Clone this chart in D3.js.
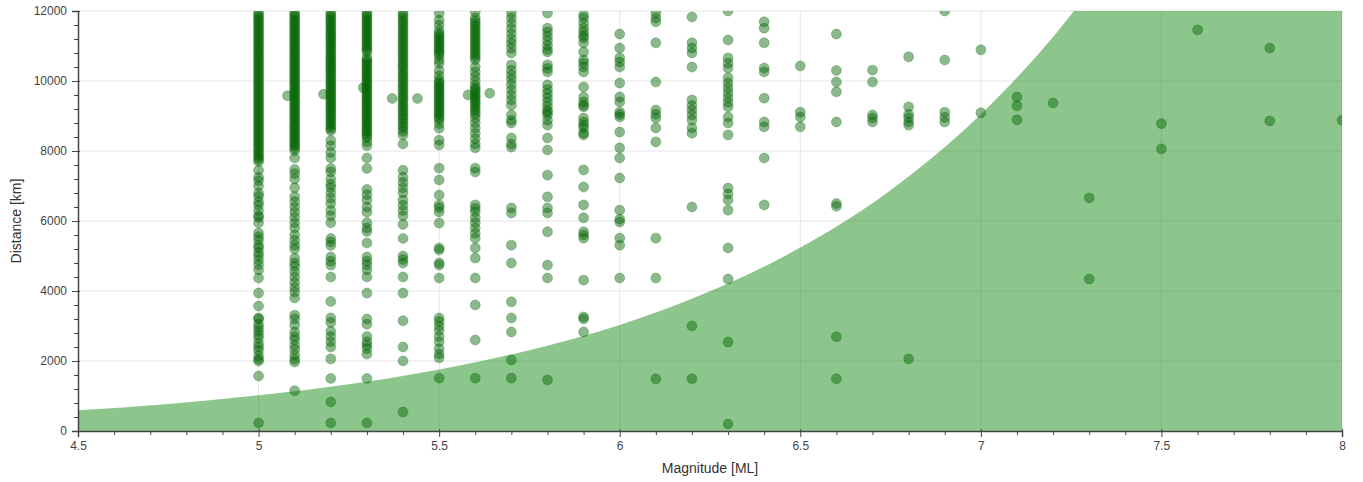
<!DOCTYPE html>
<html lang="en">
<head>
  <meta charset="UTF-8">
  <script src="https://d3js.org/d3.v7.min.js"></script>
  <style>
    body {
      margin: 0;
      padding: 0;
      background-color: #fff;
      font-family: "Liberation Sans", Arial, sans-serif;
    }
    .tick text {
      font-size: 12px;
      fill: #444;
    }
    .axis-title {
      font-size: 14px;
      fill: #333;
    }
  </style>
</head>
<body>
  <div id="chart"></div>
  <script>
    // magnitude columns and the distances read for each one
    const magnitudes = [5.0, 5.1, 5.2, 5.3, 5.4, 5.5, 5.6, 5.7, 5.8, 5.9, 6.0, 6.1, 6.2, 6.3, 6.4,
      6.5, 6.6, 6.7, 6.8, 6.9, 7.0, 7.1, 7.2, 7.3, 7.5, 7.6, 7.8, 8.0];

    const distances = [
      // 5.0
      [11950, 11820, 11700, 11580, 11450, 11330, 11200, 11080, 10950, 10830, 10700, 10580, 10450, 10330,
        10200, 10080, 9950, 9830, 9700, 9580, 9450, 9330, 9200, 9080, 8950, 8830, 8700, 8580, 8450, 8330,
        8200, 8080, 7950, 7820, 7700, 7450, 7250, 7150, 7000, 6800, 6700, 6550, 6450, 6300, 6150, 6100,
        5950, 5660, 5550, 5450, 5300, 5230, 5100, 5000, 4880, 4750, 4600, 4370, 3940, 3570, 3230, 3200,
        3050, 2950, 2850, 2750, 2650, 2500, 2400, 2300, 2150, 2050, 2000, 1570, 230,
        11890, 11760, 11640, 11510, 11390, 11260, 11140, 11010, 10890, 10760, 10640, 10510, 10390, 10260,
        10140, 10010, 9890, 9760, 9640, 9510, 9390, 9260, 9140, 9010, 8890, 8760, 8640, 8510, 8390, 8260,
        8140, 8010, 7880, 7760],
      // 5.1
      [11950, 11830, 11700, 11580, 11450, 11330, 11200, 11080, 10950, 10830, 10700, 10580, 10450, 10330,
        10200, 10080, 9950, 9830, 9700, 9580, 9450, 9330, 9200, 9080, 8950, 8830, 8700, 8580, 8450, 8330,
        8200, 8080, 7800, 7470, 7350, 7200, 6950, 6700, 6550, 6400, 6250, 6100, 5950, 5800, 5600, 5450,
        5310, 5200, 4940, 4800, 4700, 4550, 4400, 4250, 4100, 3970, 3800, 3310, 3200, 3030, 2830, 2700,
        2600, 2450, 2330, 2170, 2050, 1970, 1150,
        11890, 11760, 11640, 11510, 11390, 11260, 11140, 11010, 10890, 10760, 10640, 10510, 10390, 10260,
        10140, 10010, 9890, 9760, 9640, 9510, 9390, 9260, 9140, 9010, 8890, 8760, 8640, 8510, 8390, 8260,
        8140, 8010],
      // 5.2
      [11950, 11830, 11700, 11580, 11450, 11330, 11200, 11080, 10950, 10830, 10700, 10580, 10450, 10330,
        10200, 10080, 9950, 9830, 9700, 9580, 9450, 9330, 9200, 9080, 8950, 8830, 8700, 8580, 8300, 8150,
        7960, 7800, 7500, 7400, 7200, 7050, 6950, 6800, 6650, 6500, 6300, 6150, 5950, 5500, 5400, 5300,
        4970, 4850, 4740, 4400, 3700, 3230, 3100, 2850, 2700, 2550, 2400, 2060, 1500, 830, 230,
        11890, 11760, 11640, 11510, 11390, 11260, 11140, 11010, 10890, 10760, 10640, 10510, 10390, 10260,
        10140, 10010, 9890, 9760, 9640, 9510, 9390, 9260, 9140, 9010, 8890, 8760, 8640],
      // 5.3
      [11950, 11830, 11700, 11580, 11450, 11330, 11200, 11080, 10950, 10830, 10660, 10540, 10420, 10300,
        10180, 10060, 9940, 9820, 9700, 9580, 9460, 9340, 9220, 9100, 8980, 8860, 8740, 8620, 8500, 8380,
        8260, 8150, 7800, 7500, 6900, 6750, 6600, 6400, 6250, 5950, 5800, 5700, 5370, 4970, 4850, 4740,
        4600, 4400, 3940, 3200, 3050, 2700, 2550, 2450, 2350, 2200, 1500, 230,
        11890, 11760, 11640, 11510, 11390, 11260, 11140, 11010, 10890, 10600, 10480, 10360, 10240, 10120,
        10000, 9880, 9760, 9640, 9520, 9400, 9280, 9160, 9040, 8920, 8800, 8680, 8560, 8440],
      // 5.4
      [11950, 11800, 11650, 11500, 11350, 11200, 11050, 10900, 10750, 10600, 10450, 10300, 10150, 10000,
        9850, 9700, 9550, 9400, 9250, 9100, 8950, 8800, 8650, 8460, 8200, 7450, 7250, 7100, 6950, 6800,
        6600, 6450, 6300, 6150, 5900, 5500, 5000, 4900, 4800, 4400, 3940, 3150, 2400, 2000, 540,
        11880, 11720, 11580, 11420, 11280, 11120, 10980, 10820, 10680, 10520, 10380, 10220, 10080, 9920,
        9780, 9620, 9480, 9320, 9180, 9020, 8880, 8720, 8560],
      // 5.5
      [11940, 11740, 11600, 11450, 11350, 11230, 11100, 10980, 10850, 10720, 10600, 10500, 10300, 10150,
        10030, 9900, 9780, 9650, 9530, 9400, 9280, 9150, 9030, 8900, 8780, 8650, 8310, 8170, 7510, 7170,
        6740, 6460, 6380, 6260, 5940, 5230, 5170, 4800, 4740, 4370, 3230, 3130, 3000, 2870, 2700, 2550,
        2350, 2200, 2090, 1510,
        11300, 11170, 11040, 10910, 10790, 9960, 9840, 9720, 9590, 9470, 9340, 9220, 9090, 8960],
      // 5.6
      [11970, 11800, 11650, 11500, 11350, 11200, 11050, 10900, 10750, 10600, 10400, 10260, 10130, 10000,
        9870, 9740, 9600, 9480, 9350, 9200, 9050, 8940, 8800, 8650, 8500, 8350, 8200, 8090, 7510, 7400,
        6460, 6360, 6260, 6090, 5950, 5800, 5650, 5510, 5230, 4940, 4370, 3600, 2600, 1510,
        11720, 11570, 11420, 11270, 11120, 10970, 10820, 10680, 9800, 9670, 9540, 9410, 9280, 9120],
      // 5.7
      [11940, 11800, 11650, 11500, 11350, 11200, 11080, 10940, 10800, 10460, 10310, 10170, 10050, 9900,
        9750, 9600, 9460, 9310, 9030, 8880, 8800, 8370, 8200, 8110, 6370, 6230, 5310, 4800, 3690, 3230,
        2830, 2030, 1510],
      // 5.8
      [11940, 11510, 11400, 11280, 11150, 11020, 10900, 10830, 10460, 10360, 10260, 9890, 9760, 9640,
        9520, 9400, 9280, 9160, 9110, 9030, 8880, 8740, 8370, 8030, 7310, 6690, 6370, 6230, 5690, 4740,
        4370, 1460],
      // 5.9
      [11890, 11800, 11650, 11510, 11400, 11300, 11230, 11090, 10830, 10600, 10510, 10400, 10260, 9830,
        9540, 9400, 9310, 9260, 8940, 8830, 8740, 8660, 8510, 8460, 7460, 6970, 6460, 6090, 5690, 5600,
        5510, 4310, 3260, 3200, 2830],
      // 6.0
      [11340, 10940, 10660, 10540, 10400, 9940, 9540, 9400, 9110, 9040, 8970, 8540, 8090, 7800, 7230,
        6310, 6050, 5970, 5510, 5310, 4370],
      // 6.1
      [11940, 11800, 11690, 11090, 9970, 9170, 9050, 8940, 8660, 8260, 5510, 4370, 1490],
      // 6.2
      [11830, 11090, 10940, 10800, 10400, 9460, 9300, 9170, 9030, 8890, 8660, 8510, 6400, 3000, 1490],
      // 6.3
      [12000, 11170, 10660, 10510, 10370, 10090, 9940, 9800, 9660, 9520, 9390, 9260, 8970, 8800, 8460,
        6940, 6770, 6600, 6310, 5230, 4340, 2540, 200],
      // 6.4
      [11690, 11510, 11090, 10370, 10260, 9510, 8830, 8690, 7800, 6460],
      // 6.5
      [10430, 9110, 8970, 8690],
      // 6.6
      [11340, 10300, 9970, 9690, 8830, 6500, 6420, 2690, 1490],
      // 6.7
      [10310, 9970, 9030, 8940, 8830],
      // 6.8
      [10690, 9260, 9050, 8950, 8830, 8740, 2060],
      // 6.9
      [12000, 10600, 9110, 8960, 8830],
      // 7.0
      [10890, 9090],
      // 7.1
      [9540, 9290, 8890],
      // 7.2
      [9370],
      // 7.3
      [6660, 4340],
      // 7.5
      [8780, 8060],
      // 7.6
      [11460],
      // 7.8
      [10940, 8860],
      // 8.0
      [8880]
    ];

    // a few events off the 0.1 grid
    const extraMags = [5.08, 5.18, 5.29, 5.37, 5.44, 5.58, 5.64];
    const extraDists = [9580, 9620, 9810, 9500, 9500, 9600, 9650];

    // shaded boundary
    const curveMags = [4.5, 4.75, 5.0, 5.25, 5.5, 5.75, 6.0, 6.25, 6.5, 6.75, 7.0, 7.25, 7.5, 7.75, 8.0];
    const curveDists = [590, 775, 1020, 1335, 1760, 2310, 3030, 3990, 5240, 6880, 9050, 11900, 15650, 20600, 27000];

    const xTicks = [4.5, 5, 5.5, 6, 6.5, 7, 7.5, 8];
    const yTicks = [0, 2000, 4000, 6000, 8000, 10000, 12000];

    const points = [];
    magnitudes.forEach((m, i) => distances[i].forEach(d => points.push({ m: m, d: d })));
    extraMags.forEach((m, i) => points.push({ m: m, d: extraDists[i] }));

    const curve = curveMags.map((m, i) => ({ m: m, d: curveDists[i] }));

    const width = 1363, height = 482;
    const margin = { top: 11, right: 21, bottom: 51, left: 78 };
    const innerW = width - margin.left - margin.right;
    const innerH = height - margin.top - margin.bottom;

    const svg = d3.select("#chart")
      .append("svg")
      .attr("width", width)
      .attr("height", height);

    const x = d3.scaleLinear().domain([4.5, 8]).range([margin.left, margin.left + innerW]);
    const y = d3.scaleLinear().domain([0, 12000]).range([margin.top + innerH, margin.top]);

    svg.append("defs").append("clipPath")
      .attr("id", "plot-clip")
      .append("rect")
      .attr("x", margin.left)
      .attr("y", margin.top)
      .attr("width", innerW)
      .attr("height", innerH);

    // grid
    svg.append("g")
      .selectAll("line")
      .data(yTicks.slice(1))
      .enter()
      .append("line")
      .attr("x1", margin.left)
      .attr("x2", margin.left + innerW)
      .attr("y1", d => y(d))
      .attr("y2", d => y(d))
      .attr("stroke", "#e5e5e5");

    svg.append("g")
      .selectAll("line")
      .data(xTicks.slice(1))
      .enter()
      .append("line")
      .attr("x1", d => x(d))
      .attr("x2", d => x(d))
      .attr("y1", margin.top)
      .attr("y2", margin.top + innerH)
      .attr("stroke", "#e5e5e5");

    const plot = svg.append("g").attr("clip-path", "url(#plot-clip)");

    const area = d3.area()
      .x(d => x(d.m))
      .y0(y(0))
      .y1(d => y(d.d))
      .curve(d3.curveMonotoneX);

    plot.append("path")
      .datum(curve)
      .attr("d", area)
      .attr("fill", "green")
      .attr("fill-opacity", 0.45);

    plot.append("g")
      .selectAll("circle")
      .data(points)
      .enter()
      .append("circle")
      .attr("cx", d => x(d.m))
      .attr("cy", d => y(d.d))
      .attr("r", 5)
      .attr("fill", "darkgreen")
      .attr("fill-opacity", 0.45)
      .attr("stroke", "darkgreen")
      .attr("stroke-opacity", 0.25)
      .attr("stroke-width", 1);

    // axes: major ticks 2 in / 6 out, minor ticks 4 out
    const xMinor = d3.range(45, 81).map(v => v / 10).filter(v => !xTicks.includes(v));
    const yMinor = d3.range(0, 12001, 400).filter(v => !yTicks.includes(v));

    const xAxis = svg.append("g")
      .attr("transform", `translate(0,${margin.top + innerH})`)
      .call(d3.axisBottom(x).tickValues(xTicks).tickSize(6).tickPadding(4).tickFormat(d3.format("")));
    xAxis.selectAll(".tick line").attr("y1", -2);
    svg.append("g")
      .attr("transform", `translate(0,${margin.top + innerH})`)
      .call(d3.axisBottom(x).tickValues(xMinor).tickSize(4).tickFormat(""))
      .call(g => g.select(".domain").remove());

    const yAxis = svg.append("g")
      .attr("transform", `translate(${margin.left},0)`)
      .call(d3.axisLeft(y).tickValues(yTicks).tickSize(6).tickPadding(5).tickFormat(d3.format("")));
    yAxis.selectAll(".tick line").attr("x1", 2);
    svg.append("g")
      .attr("transform", `translate(${margin.left},0)`)
      .call(d3.axisLeft(y).tickValues(yMinor).tickSize(4).tickFormat(""))
      .call(g => g.select(".domain").remove());

    svg.selectAll(".domain").attr("stroke", "#444").attr("stroke-width", 1.5);
    svg.selectAll(".tick line").attr("stroke", "#444");
    svg.selectAll(".tick text").style("font-family", "'Liberation Sans', Arial, sans-serif");

    svg.append("text")
      .attr("class", "axis-title")
      .attr("x", margin.left + innerW / 2)
      .attr("y", 473)
      .attr("text-anchor", "middle")
      .text("Magnitude [ML]");

    svg.append("text")
      .attr("class", "axis-title")
      .attr("transform", `translate(21,${margin.top + innerH / 2}) rotate(-90)`)
      .attr("text-anchor", "middle")
      .text("Distance [km]");
  </script>
</body>
</html>
